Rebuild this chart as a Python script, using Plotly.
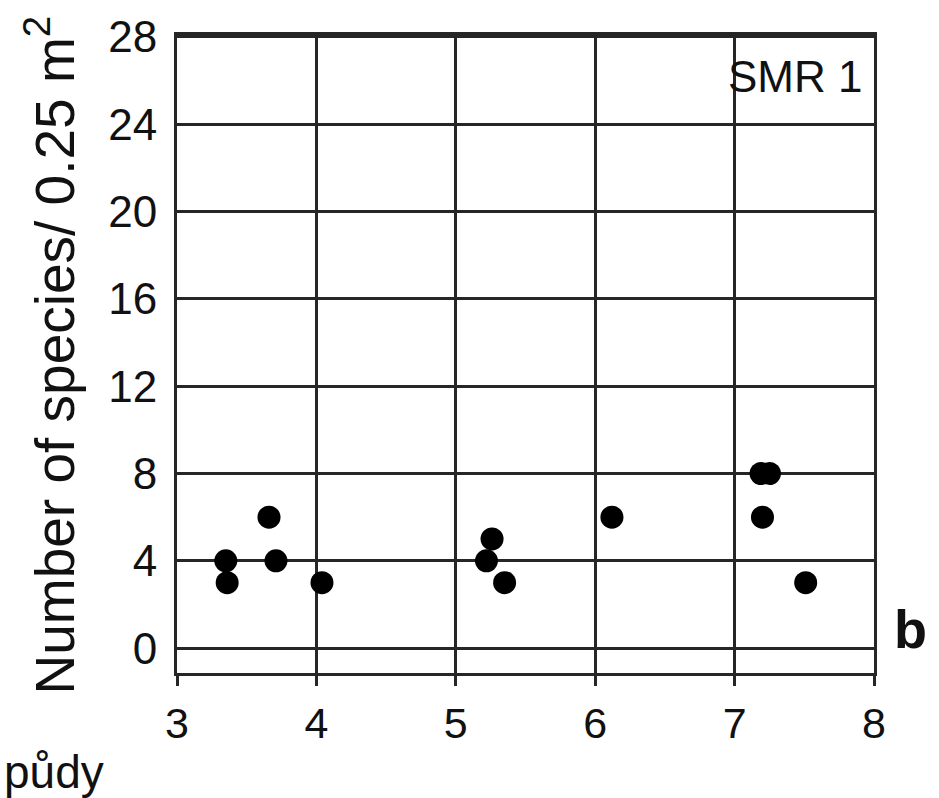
import plotly.graph_objects as go

# data
x_vals = [3.35, 3.36, 3.66, 3.71, 4.04, 5.22, 5.26, 5.35, 6.12, 7.19, 7.25, 7.20, 7.51]
y_vals = [4, 3, 6, 4, 3, 4, 5, 3, 6, 8, 8, 6, 3]
x_ticks = [3, 4, 5, 6, 7, 8]
y_ticks = [0, 4, 8, 12, 16, 20, 24, 28]

FONT = "Liberation Sans, Arial, Helvetica, sans-serif"
INK = "#111111"
GRID = "#262626"

fig = go.Figure()
fig.add_trace(go.Scatter(
    x=x_vals, y=y_vals, mode="markers",
    marker=dict(color="black", size=23, symbol="circle", line=dict(width=0)),
    showlegend=False, hoverinfo="skip",
))

fig.update_layout(
    width=939, height=798,
    margin=dict(l=177, r=65, t=33, b=125, pad=0),
    paper_bgcolor="white", plot_bgcolor="white",
    font=dict(family=FONT, color=INK, size=44),
    xaxis=dict(
        range=[3, 8], tickvals=x_ticks, ticktext=[str(v) for v in x_ticks],
        showgrid=True, gridcolor=GRID, gridwidth=3,
        showline=True, linecolor=GRID, linewidth=3, mirror=True,
        ticks="outside", ticklen=10, tickwidth=3, tickcolor=GRID,
        zeroline=False, tickfont=dict(size=43, family=FONT, color=INK),
    ),
    yaxis=dict(
        range=[-1.14, 28.09], tickvals=y_ticks, ticktext=[str(v) for v in y_ticks],
        showgrid=True, gridcolor=GRID, gridwidth=3,
        showline=True, linecolor=GRID, linewidth=3, mirror=True,
        ticks="", ticklabelstandoff=8,
        zeroline=False, tickfont=dict(size=44, family=FONT, color=INK),
    ),
    annotations=[
        dict(text="Number of species/ 0.25 m<sup>2</sup>", textangle=-90,
             xref="paper", yref="paper", x=(51 - 177) / 697, y=(673 - 355) / 639,
             xanchor="center", yanchor="middle", showarrow=False,
             font=dict(size=55, family=FONT, color=INK)),
        dict(text="SMR 1", xref="x", yref="y", x=7.93, y=26.2,
             xanchor="right", yanchor="middle", showarrow=False,
             font=dict(size=44, family=FONT, color=INK)),
        dict(text="<b>b</b>", xref="paper", yref="paper",
             x=(910 - 177) / 697, y=(673 - 629) / 639,
             xanchor="center", yanchor="middle", showarrow=False,
             font=dict(size=54, family=FONT, color=INK)),
        dict(text="půdy", xref="paper", yref="paper",
             x=(2 - 177) / 697, y=(673 - 772) / 639,
             xanchor="left", yanchor="middle", showarrow=False,
             font=dict(size=46, family=FONT, color=INK)),
    ],
)

fig.write_html("out.html")
